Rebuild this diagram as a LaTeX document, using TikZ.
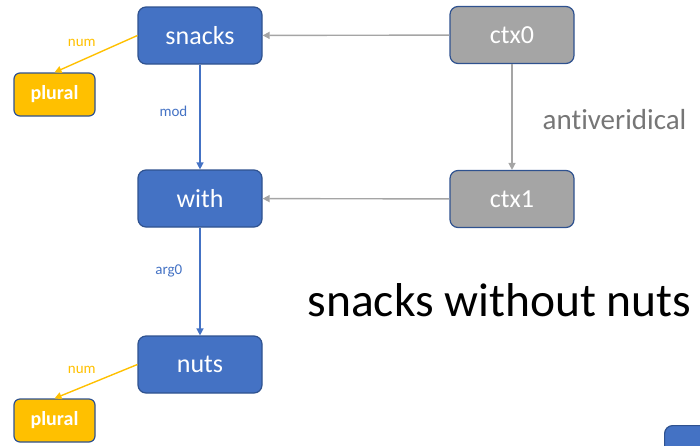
\documentclass[tikz,border=0pt]{standalone}
\usepackage{fontspec}
\setmainfont{Carlito}[Ligatures=NoCommon]
\usetikzlibrary{arrows.meta}
\definecolor{nblue}{HTML}{4472C4}
\definecolor{nborder}{HTML}{2F528F}
\definecolor{ngray}{HTML}{A5A5A5}
\definecolor{ngold}{HTML}{FFC000}
\definecolor{ltext}{HTML}{767676}
\tikzset{
  box/.style={draw=nborder, line width=1.2pt, rounded corners=8pt, text=white,
    minimum width=124pt, minimum height=57pt, inner sep=0pt,
    font=\fontsize{26}{30}\selectfont},
  bluebox/.style={box, fill=nblue},
  graybox/.style={box, fill=ngray},
  goldbox/.style={box, fill=ngold, minimum width=81pt, minimum height=43pt,
    rounded corners=6pt, font=\fontsize{20}{24}\selectfont\bfseries},
  conn/.style={line width=1.4pt, -{Triangle[length=7pt,width=7pt]}},
  blueconn/.style={conn, draw=nblue},
  grayconn/.style={conn, draw=ngray},
  goldconn/.style={conn, draw=ngold},
  elabel/.style={font=\fontsize{15}{18}\selectfont, inner sep=0pt}
}
\begin{document}
\begin{tikzpicture}[x=1pt,y=-1pt]
\useasboundingbox (0,0) rectangle (700,445);
\node[bluebox] (snacks) at (200,35.5) {snacks};
\node[bluebox] (with) at (200,198.5) {with};
\node[bluebox] (nuts) at (200,364.5) {nuts};
\node[graybox] (ctx0) at (512,35) {ctx0};
\node[graybox] (ctx1) at (512,199) {ctx1};
\node[goldbox] (pl1) at (54.5,94.5) {plural};
\node[goldbox] (pl2) at (54.5,420.5) {plural};
\node[bluebox, anchor=north west] (extra) at (664,425) {};
\draw[goldconn] (snacks.west) -- (pl1.north) node[pos=0.67, above=13pt, elabel, text=ngold] {num};
\draw[goldconn] (nuts.west) -- (pl2.north) node[pos=0.67, above=13pt, elabel, text=ngold] {num};
\draw[blueconn] (snacks) -- (with) node[pos=0.45, left=12pt, elabel, text=nblue] (lmod) {mod};
\draw[blueconn] (with) -- (nuts) node[pos=0.4, left=17pt, elabel, text=nblue] (larg) {arg0};
\draw[grayconn] (ctx0) -- (snacks);
\draw[grayconn] (ctx1) -- (with);
\draw[grayconn] (ctx0) -- (ctx1) node[pos=0.52, right=30pt, font=\fontsize{29}{34}\selectfont, text=ltext, inner sep=0pt] (lanti) {antiveridical};
\node[font=\fontsize{47.5}{56}\selectfont, anchor=base] (caption) at (499.5,316) {snacks without nuts};
\end{tikzpicture}
\end{document}
